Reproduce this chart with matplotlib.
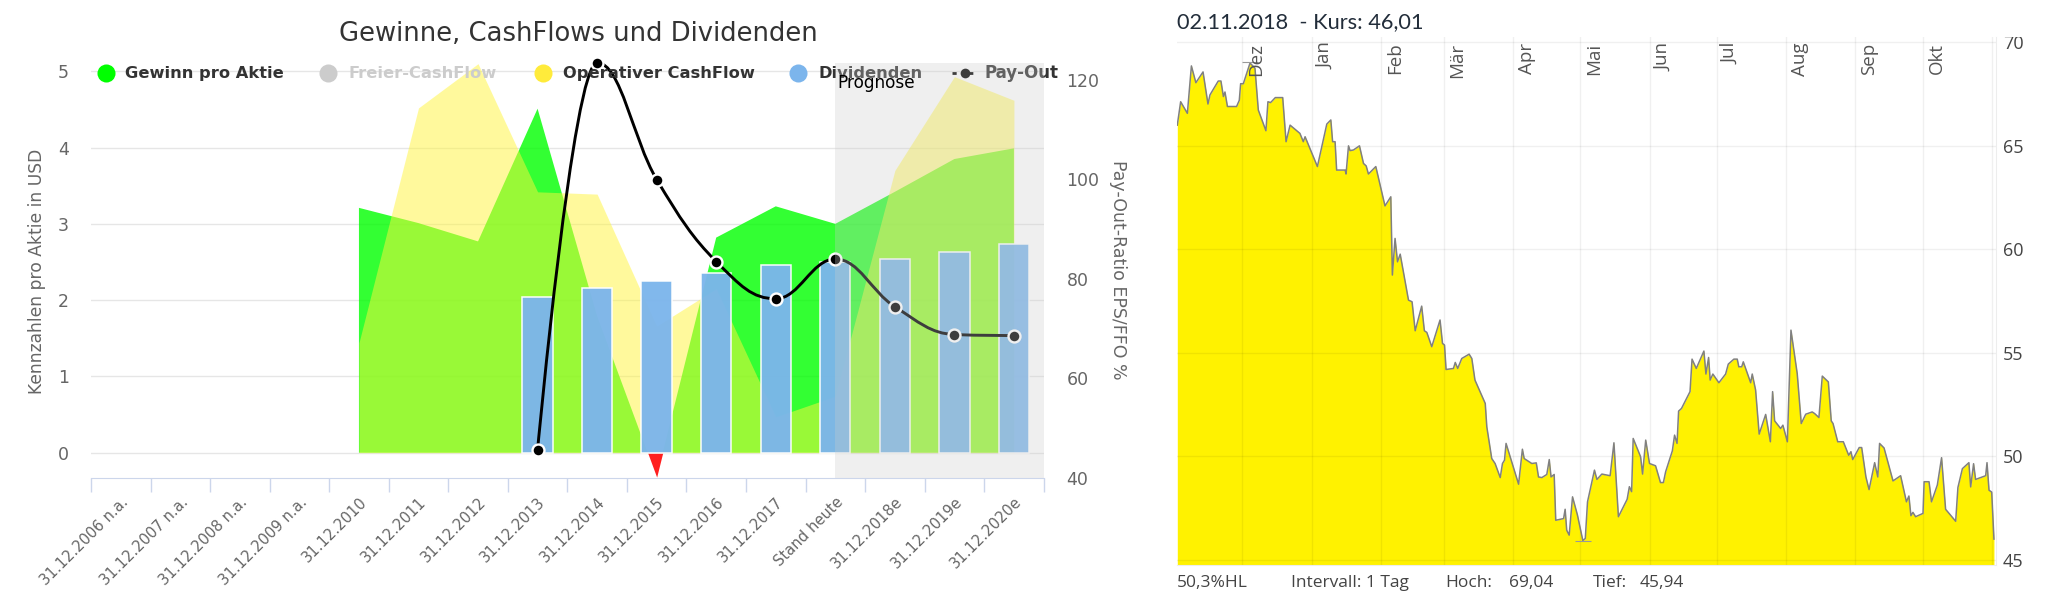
import numpy as np
from matplotlib import pyplot as plt
from matplotlib.path import Path
from matplotlib.patches import PathPatch
from matplotlib.transforms import Affine2D, Bbox

W, H = 2059, 603

kategorien = ['31.12.2006 n.a.', '31.12.2007 n.a.', '31.12.2008 n.a.', '31.12.2009 n.a.',
              '31.12.2010', '31.12.2011', '31.12.2012', '31.12.2013', '31.12.2014', '31.12.2015',
              '31.12.2016', '31.12.2017', 'Stand heute', '31.12.2018e', '31.12.2019e', '31.12.2020e']

# area series start at 2010, bars and pay-out at 2013
gewinn = [3.21, 3.01, 2.77, 4.51, 1.79, -0.32, 2.82, 3.23, 3.0, 3.42, 3.85, 3.99]
oper_cf = [1.44, 4.52, 5.10, 3.42, 3.39, 1.66, 2.15, 0.47, 0.74, 3.70, 4.93, 4.62]
dividende = [2.04, 2.165, 2.25, 2.36, 2.46, 2.50, 2.54, 2.63, 2.73]
payout = [45.6, 123.5, 100, 83.5, 76, 84, 74.4, 68.8, 68.6]

monate = ['Dez', 'Jan', 'Feb', 'Mär', 'Apr', 'Mai', 'Jun', 'Jul', 'Aug', 'Sep', 'Okt', '']
monats_tage = [29, 60, 91, 119, 150, 180, 211, 241, 272, 303, 333, 364]

# days since 02.11.2017
kurs_tag = [0, 1.5, 4.5, 6.3, 8.3, 11.5, 13.7, 14.6, 18.3, 19.5, 20.6, 21.3, 22.4, 26.5, 27.7, 28.3, 29.5,
            32.5, 34.7, 36.2, 39.6, 40.5, 41.7, 43.8, 47.1, 48.6, 50.4, 54.8, 56.3, 57.1, 62.6, 66.8, 68.6,
            69.4, 70.5, 71.2, 75, 75.4, 76.5, 77.2, 78.7, 81.4, 83.2, 84.4, 85.4, 88.7, 92.8, 95.4, 96.1,
            97.3, 98.4, 99.6, 103.3, 104.9, 106.3, 109.2, 110.4, 111.5, 113.7, 117.4, 118.5, 119.4, 120.1,
            123.4, 124.2, 125.3, 127.1, 130.4, 131.6, 133, 137.6, 138.3, 140.5, 142, 144.3, 145.3, 146.2,
            146.9, 152.5, 154.2, 155, 158.4, 160.4, 161.4, 162.9, 165.1, 166.2, 167, 168.4, 169.1, 172.6,
            173.3, 174, 175.1, 176.6, 178.8, 181.2, 182.3, 183.3, 186.4, 187.5, 189.7, 193.4, 195.1, 197.1,
            201, 202, 203, 203.7, 207, 207.9, 209.3, 211, 213.7, 215.9, 217.2, 218.2, 221.2, 222.2, 223.3,
            224, 225.3, 229.1, 230, 231.9, 235.3, 236.2, 237.4, 238.1, 239.3, 242, 245, 246.2, 248.7, 250.2,
            250.9, 252.2, 252.9, 256.2, 256.9, 258.4, 260, 262.9, 265, 266, 266.9, 269.6, 270.6, 272.6,
            274.2, 277, 278.8, 280.8, 283.7, 284.8, 286.7, 288.2, 290.9, 292.2, 293, 295.1, 297.6, 300, 301,
            301.8, 304.7, 305.8, 307.7, 309.1, 311.6, 313, 313.8, 315.8, 319.8, 323.2, 325.8, 326.9, 327.8,
            328.7, 329.9, 333.2, 333.7, 335.9, 337, 339.6, 341.5, 343.3, 347.8, 348.8, 350.8, 353.7, 354.5,
            355.8, 356.7, 361.2, 361.8, 362.7, 363.9, 364.9]
kurs_wert = [66.0, 67.13, 66.57, 68.86, 68.05, 68.57, 67.02, 67.46, 68.13, 68.13, 67.38, 67.6, 66.9, 66.9, 67.2, 68.0, 68.0,
             69.0, 68.75, 66.73, 65.73, 67.13, 67.09, 67.33, 67.33, 65.2, 66.0, 65.6, 65.2, 65.44, 64.0, 66.05, 66.25,
             65.2, 65.2, 63.83, 63.83, 63.64, 65.0, 64.77, 64.8, 65.0, 64.15, 64.03, 63.64, 64.0, 62.1, 62.54, 58.76,
             60.53, 59.4, 59.77, 57.55, 57.47, 56.07, 57.26, 56.07, 55.99, 55.3, 56.59, 55.46, 55.38, 54.2,
             54.25, 54.54, 54.25, 54.73, 54.94, 54.73, 53.69, 52.56, 51.43, 49.9, 49.66, 48.98, 49.66, 49.82,
             50.63, 48.66, 50.35, 49.9, 49.66, 49.69, 49.01, 48.98, 49.13, 49.85, 49.01, 49.13, 46.92, 47.0,
             47.45, 46.44, 46.2, 48.05, 47.17, 45.94, 46.04, 47.81, 49.34, 48.89, 49.15, 49.07, 50.66, 47.09,
             47.93, 48.54, 48.3, 50.87, 49.99, 49.15, 50.79, 49.66, 49.55, 48.74, 48.74, 49.26, 50.27, 51.03, 50.63,
             52.19, 52.32, 53.13, 54.7, 54.25, 55.09, 53.98, 54.78, 53.69, 53.98, 53.56, 53.98, 54.46, 54.7, 54.7,
             54.33, 54.33, 54.57, 53.56, 53.98, 53.21, 51.08, 52.03, 50.71, 53.13, 51.72, 51.35, 51.51, 50.71,
             56.1, 54.0, 51.59, 52.04, 52.15, 52.07, 51.88, 53.88, 53.6, 51.72, 51.59, 50.71, 50.71, 50.06, 50.23,
             49.85, 50.43, 50.43, 49.01, 48.4, 49.7, 49.01, 50.63, 50.41, 48.82, 49.07, 47.81, 48.09, 47.14,
             47.3, 47.09, 47.25, 48.78, 48.78, 47.81, 48.62, 49.94, 47.45, 46.87, 48.5, 49.41, 49.7, 48.53,
             49.65, 48.89, 49.07, 49.7, 48.37, 48.28, 46.01]
hoch_tag, hoch_wert = 32.5, 69.04
tief_tag, tief_wert = 181.2, 45.94

GRAU = '#666666'


def spline_path(xs, ys, smoothing=1.5):
    # same control points as a Highcharts spline series
    verts = [(xs[0], ys[0])]
    codes = [Path.MOVETO]
    right = (xs[0], ys[0])
    d = smoothing + 1
    for i in range(1, len(xs)):
        x, y = xs[i], ys[i]
        if i < len(xs) - 1:
            lx, ly = (smoothing * x + xs[i - 1]) / d, (smoothing * y + ys[i - 1]) / d
            rx, ry = (smoothing * x + xs[i + 1]) / d, (smoothing * y + ys[i + 1]) / d
            corr = (ry - ly) * (rx - x) / (rx - lx) + y - ry
            ly += corr
            ry += corr
            if ly > ys[i - 1] and ly > y:
                ly = max(ys[i - 1], y)
                ry = 2 * y - ly
            elif ly < ys[i - 1] and ly < y:
                ly = min(ys[i - 1], y)
                ry = 2 * y - ly
            if ry > ys[i + 1] and ry > y:
                ry = max(ys[i + 1], y)
                ly = 2 * y - ry
            elif ry < ys[i + 1] and ry < y:
                ry = min(ys[i + 1], y)
                ly = 2 * y - ry
        else:
            lx, ly, rx, ry = x, y, x, y
        verts += [right, (lx, ly), (x, y)]
        codes += [Path.CURVE4] * 3
        right = (rx, ry)
    return Path(verts, codes)


def axes_px(left, top, right, bottom):
    return fig.add_axes([left / W, 1 - bottom / H, (right - left) / W, (bottom - top) / H])


plt.rcParams['font.family'] = 'DejaVu Sans'
fig = plt.figure(figsize=(W / 100, H / 100), dpi=100)
px = Affine2D().scale(1 / W, -1 / H).translate(0, 1) + fig.transFigure

# ---- left chart ----
ax = axes_px(91, 63, 1043.7, 477.7)
ax.set_xlim(-0.5, 15.5)
unit = (452.7 - 71.3) / 5
ax.set_ylim(-(477.7 - 452.7) / unit, (452.7 - 63) / unit)

x_area = np.arange(4, 16)
g = np.array(gewinn)
ax.fill_between(x_area, g, 0, where=g >= 0, interpolate=True, color='#00FF00', alpha=0.8, lw=0, zorder=2)
ax.fill_between(x_area, g, 0, where=g <= 0, interpolate=True, color='#FF0000', alpha=0.88, lw=0, zorder=2)
ax.fill_between(x_area, oper_cf, 0, color='#FFF53B', alpha=0.5, lw=0, zorder=2.1)
x_bar = np.arange(7, 16)
ax.bar(x_bar, dividende, width=0.51, color='#7CB5EC', alpha=0.96, edgecolor='white', linewidth=1.1, zorder=3)

ax.set_yticks(range(6))
ax.yaxis.grid(True, color='#E6E6E6', lw=1)
ax.set_axisbelow(True)
ax.tick_params(axis='y', length=0, pad=16, labelsize=12.5, labelcolor=GRAU)
ax.set_xticks(np.arange(-0.5, 16))
ax.set_xticklabels([])
ax.tick_params(axis='x', which='major', length=10, width=1, color='#CCD6EB')
ax.set_xticks(np.arange(16), kategorien, minor=True)
ax.tick_params(axis='x', which='minor', length=0, pad=12, labelsize=10.6, labelcolor=GRAU)
for lbl in ax.get_xticklabels(minor=True):
    lbl.set(rotation=45, ha='right', va='top', rotation_mode='anchor')
for s in ['left', 'right', 'top']:
    ax.spines[s].set_visible(False)
ax.spines['bottom'].set_color('#CCD6EB')

ax2 = ax.twinx()
ax2.set_ylim(40, 40 + (477.7 - 63) / 4.97)
ax2.set_yticks([40, 60, 80, 100, 120])
ax2.tick_params(axis='y', length=0, pad=16.5, labelsize=12.5, labelcolor=GRAU)
for s in ax2.spines.values():
    s.set_visible(False)
ax2.add_patch(PathPatch(spline_path(x_bar.astype(float), payout), fc='none', ec='black', lw=2.1, zorder=4, clip_on=False))
ax2.plot(x_bar, payout, ls='none', marker='o', ms=8.6, mfc='black', mec='white', mew=1.7, zorder=4.5, clip_on=False)

# grey overlay also mutes the legend underneath, as in the original
ax2.axvspan(12, 15.5, color='#CCCCCC', alpha=0.3, lw=0, zorder=10)
ax2.set_xlim(-0.5, 15.5)

legende = [('Gewinn pro Aktie', 105.6, 125, '#00FF00', '#333333'),
           ('Freier-CashFlow', 328, 348, '#CCCCCC', '#CCCCCC'),
           ('Operativer CashFlow', 543, 562.6, '#FFEB3B', '#333333'),
           ('Dividenden', 797.6, 818, '#7CB5EC', '#333333')]
for name, mx, tx, col, tcol in legende:
    ax2.plot([mx], [73], marker='o', ms=13, mfc=col, mec='none', transform=px, clip_on=False,
             scalex=False, scaley=False, zorder=5)
    ax2.text(tx, 73.5, name, transform=px, fontsize=11.7, fontweight='bold', color=tcol, va='center', ha='left', zorder=5)
ax2.plot([952, 977], [73, 73], color='black', lw=2, ls=(0, (1.5, 4.5)), transform=px, clip_on=False,
         scalex=False, scaley=False, zorder=5)
ax2.plot([964.5], [73], marker='o', ms=7, mfc='black', mec='none', transform=px, clip_on=False,
         scalex=False, scaley=False, zorder=5)
ax2.text(984, 73.5, 'Pay-Out', transform=px, fontsize=12, fontweight='bold', color='#333333', va='center', ha='left', zorder=5)
ax2.text(876, 83, 'Prognose', transform=px, fontsize=12.2, color='black', va='center', ha='center', zorder=11)

fig.text(578, 34, 'Gewinne, CashFlows und Dividenden', transform=px, fontsize=18.6, color='#333333', ha='center', va='center')
fig.text(37.5, 271, 'Kennzahlen pro Aktie in USD', transform=px, fontsize=12.3, color=GRAU, rotation=90, ha='center', va='center')
fig.text(1118, 270, 'Pay-Out-Ratio EPS/FFO %', transform=px, fontsize=12.5, color=GRAU, rotation=270, ha='center', va='center')

# ---- right chart ----
rx = axes_px(1177.3, 37, 1996, 565)
rx.set_xlim(0, (1996 - 1177.3) / 2.238)
rx.set_ylim(45 - 5 / 20.7, 70 + 5.3 / 20.7)
rx.fill_between(kurs_tag, kurs_wert, 40, color='#FFF200', lw=0, zorder=2)
rx.plot(kurs_tag, kurs_wert, color='#808080', lw=1.1, zorder=3)
rx.plot([hoch_tag, tief_tag], [hoch_wert, tief_wert], ls='none', marker='_', ms=12, mew=0.8, color='#999999', zorder=3)

rx.set_xticks(monats_tage)
rx.set_xticklabels([])
rx.yaxis.tick_right()
rx.set_yticks([45, 50, 55, 60, 65, 70])
rx.set_axisbelow(False)
rx.grid(True, color='black', alpha=0.06, lw=1)
rx.tick_params(axis='both', length=0)
rx.tick_params(axis='y', pad=5, labelsize=13, labelcolor='#444444', labelfontfamily='Open Sans')
for s in ['left', 'top']:
    rx.spines[s].set_visible(False)
for s in ['right', 'bottom']:
    rx.spines[s].set_color('#EDEDED')
for lbl in rx.get_yticklabels():
    lbl.set_clip_on(True)
    lbl.set_clip_box(Bbox([[1990, 0], [W, H - 37]]))

for m, tag in zip(monate, monats_tage):
    if m:
        rx.annotate(m, xy=(tag, 1), xycoords=('data', 'axes fraction'), xytext=(10, -4), textcoords='offset points',
                    rotation=90, ha='center', va='top', fontsize=13.5, color='#555555', family='Open Sans', zorder=5)

fig.text(1177, 22.5, '02.11.2018  - Kurs: 46,01', transform=px, fontsize=15.7, color='#222D3A', family='Lato', va='center')
for txt, x in [('50,3%HL', 1177), ('Intervall: 1 Tag', 1291), ('Hoch:', 1445.7), ('69,04', 1509), ('Tief:', 1592.7), ('45,94', 1639.7)]:
    fig.text(x, 583, txt, transform=px, fontsize=12.5, color='#444444', family='Open Sans', va='center')

fig.savefig('out.png', dpi=100)
